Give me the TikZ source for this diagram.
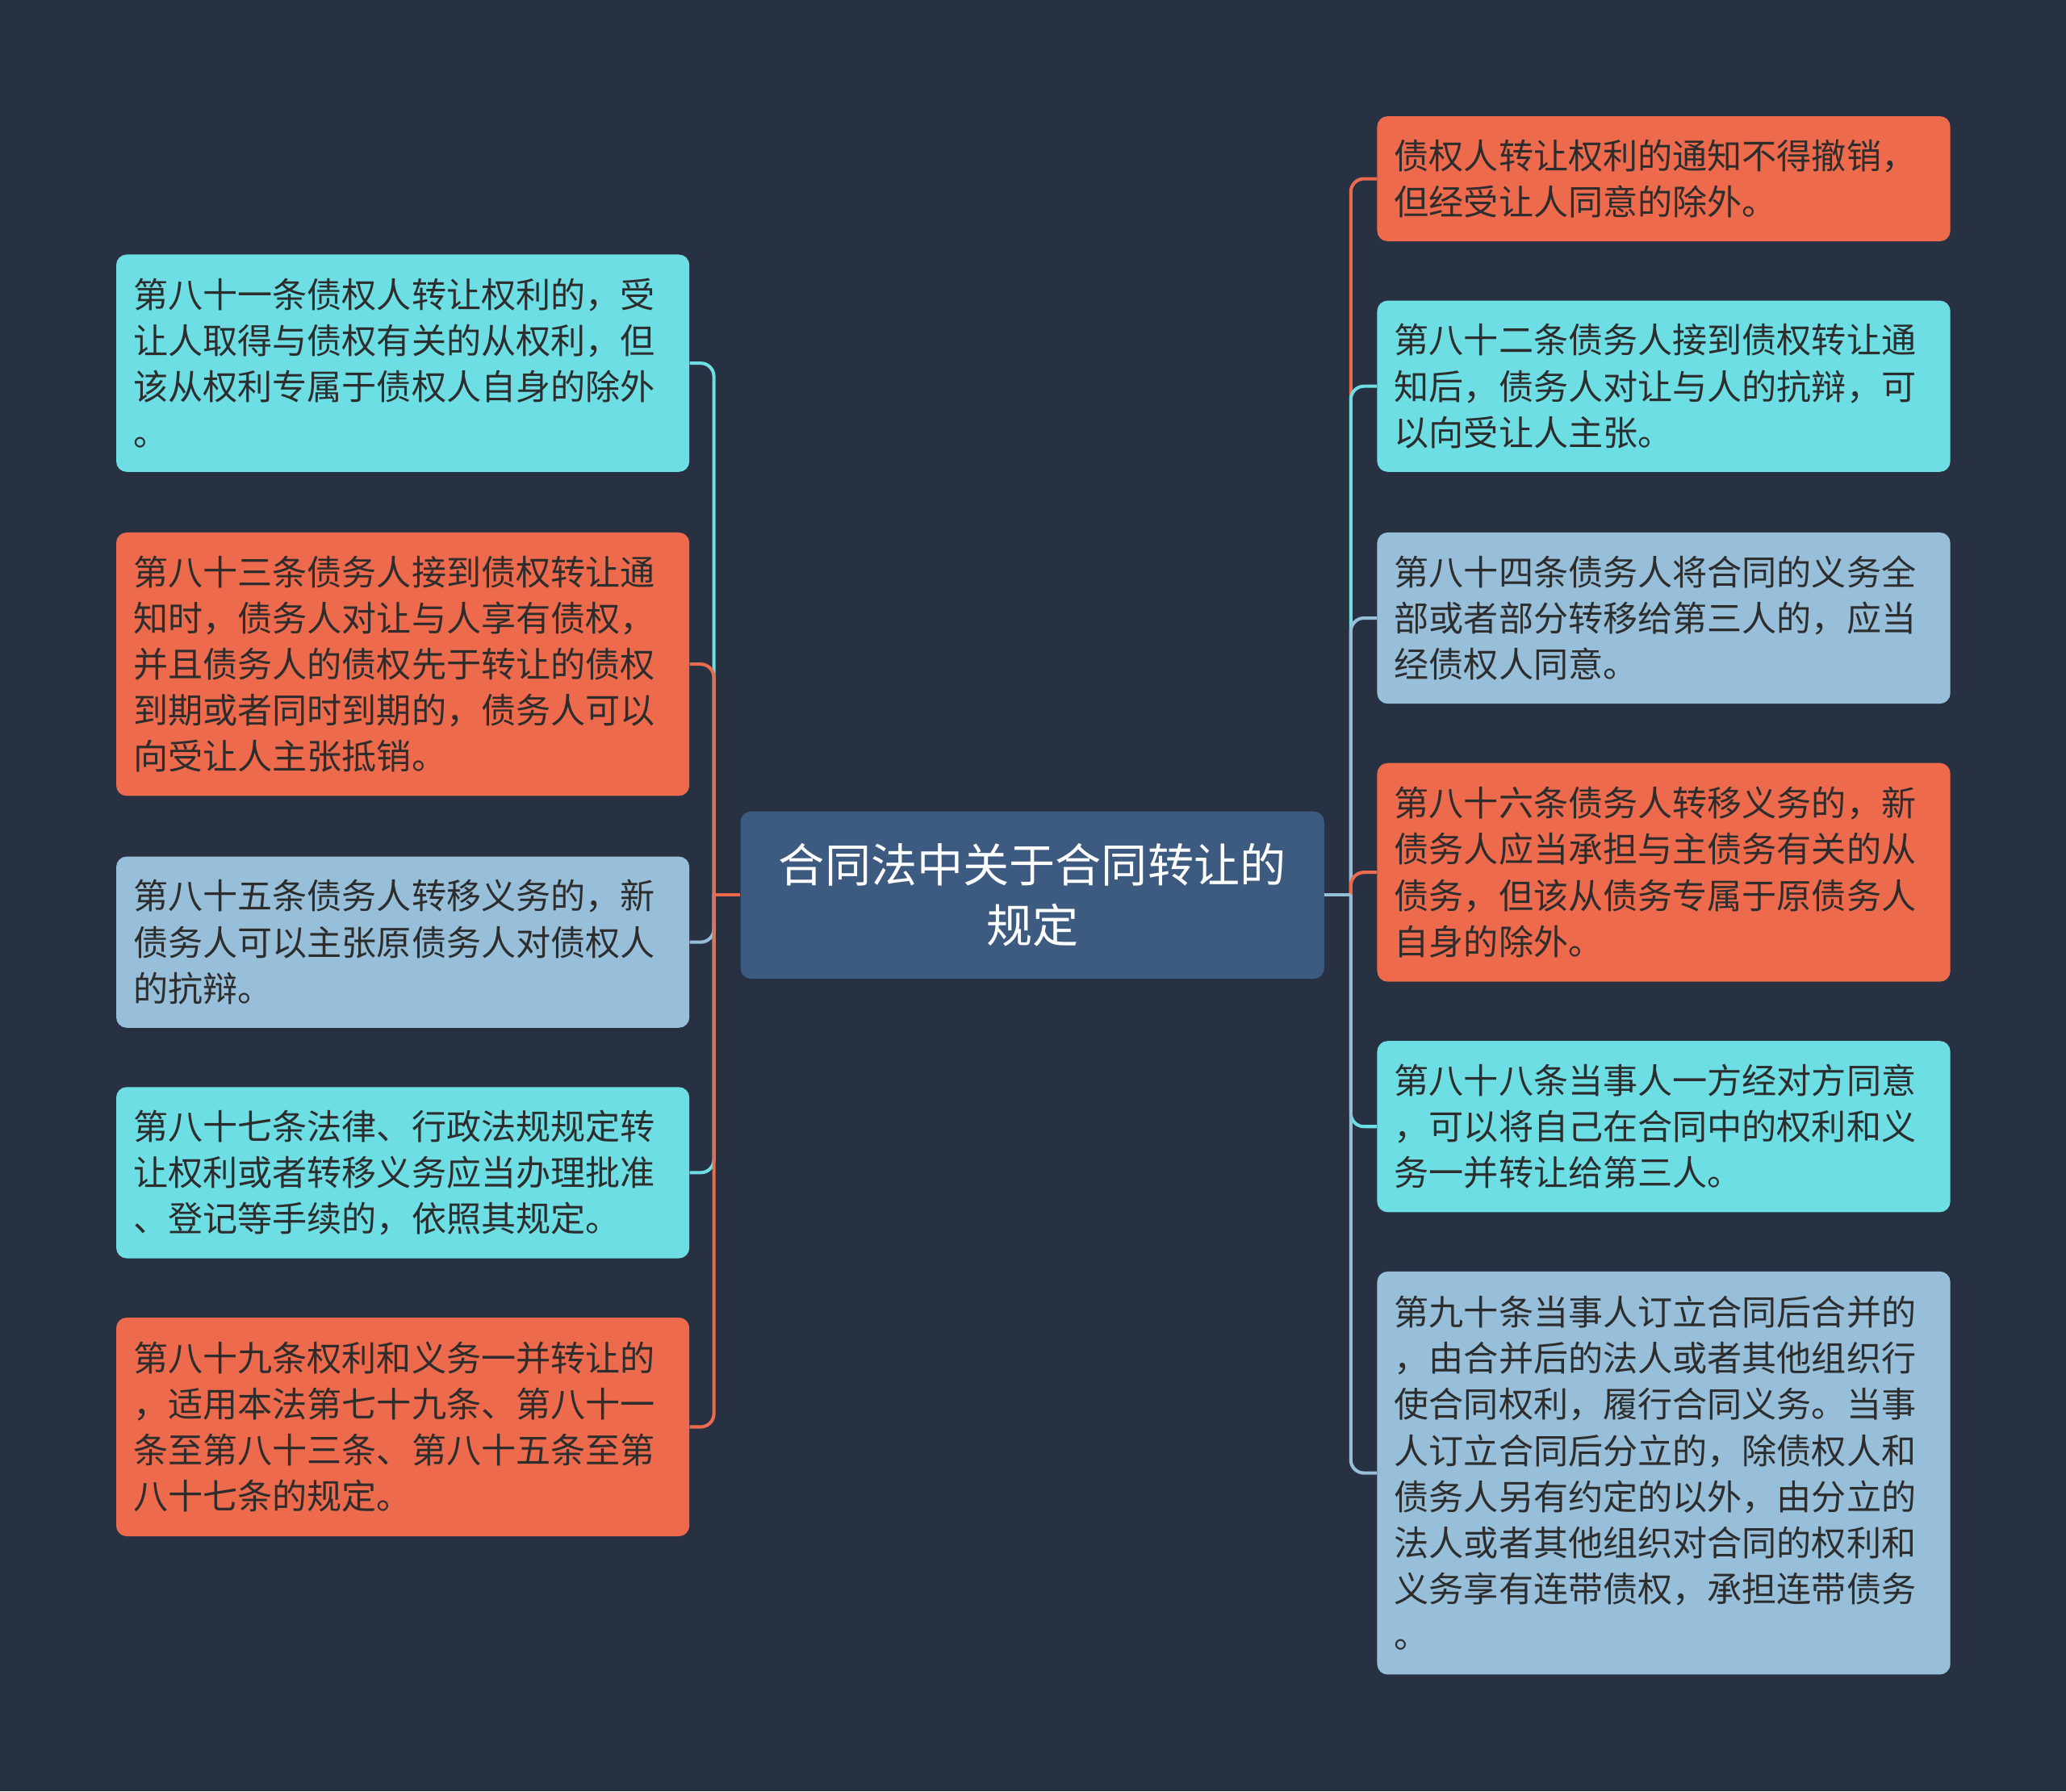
\documentclass[tikz,border=0pt]{standalone}
\usepackage{fontspec}
\setmainfont{Noto Sans CJK SC}
\definecolor{bg}{HTML}{283142}
\definecolor{orng}{HTML}{EE6A4C}
\definecolor{cyanb}{HTML}{6CDEE4}
\definecolor{lblue}{HTML}{97BFD9}
\definecolor{rootc}{HTML}{3D5A80}
\definecolor{txt}{HTML}{2D2D2D}
\tikzset{
  box/.style={rounded corners=8pt, text width=409pt, align=left, inner xsep=13pt, inner ysep=0pt,
    anchor=north west, font=\fontsize{26.4}{35}\selectfont, text=txt},
  rootbox/.style={rounded corners=8pt, fill=rootc, minimum width=443pt, minimum height=127pt,
    text=white, align=center, inner sep=0pt, font=\fontsize{35}{46}\selectfont},
  conn/.style={line width=2.5pt, rounded corners=10pt}
}
\begin{document}
\begin{tikzpicture}[x=1pt,y=-1pt]
\fill[bg] (0,0) rectangle (1568,1360);
\useasboundingbox (0,0) rectangle (1568,1360);

\node[rootbox] (root) at (783.5,679.5) {合同法中关于合同转让的\\规定};

\node[box, fill=cyanb, minimum height=165pt] (L1) at (88,193) {第八十一条债权人转让权利的，受\\让人取得与债权有关的从权利，但\\该从权利专属于债权人自身的除外\\。};
\node[box, fill=orng, minimum height=200pt] (L2) at (88,404) {第八十三条债务人接到债权转让通\\知时，债务人对让与人享有债权，\\并且债务人的债权先于转让的债权\\到期或者同时到期的，债务人可以\\向受让人主张抵销。};
\node[box, fill=lblue, minimum height=130pt] (L3) at (88,650) {第八十五条债务人转移义务的，新\\债务人可以主张原债务人对债权人\\的抗辩。};
\node[box, fill=cyanb, minimum height=130pt] (L4) at (88,825) {第八十七条法律、行政法规规定转\\让权利或者转移义务应当办理批准\\、登记等手续的，依照其规定。};
\node[box, fill=orng, minimum height=166pt] (L5) at (88,1000) {第八十九条权利和义务一并转让的\\，适用本法第七十九条、第八十一\\条至第八十三条、第八十五条至第\\八十七条的规定。};

\node[box, fill=orng, minimum height=95pt] (R1) at (1045,88) {债权人转让权利的通知不得撤销，\\但经受让人同意的除外。};
\node[box, fill=cyanb, minimum height=130pt] (R2) at (1045,228) {第八十二条债务人接到债权转让通\\知后，债务人对让与人的抗辩，可\\以向受让人主张。};
\node[box, fill=lblue, minimum height=130pt] (R3) at (1045,404) {第八十四条债务人将合同的义务全\\部或者部分转移给第三人的，应当\\经债权人同意。};
\node[box, fill=orng, minimum height=166pt] (R4) at (1045,579) {第八十六条债务人转移义务的，新\\债务人应当承担与主债务有关的从\\债务，但该从债务专属于原债务人\\自身的除外。};
\node[box, fill=cyanb, minimum height=130pt] (R5) at (1045,790) {第八十八条当事人一方经对方同意\\，可以将自己在合同中的权利和义\\务一并转让给第三人。};
\node[box, fill=lblue, minimum height=306pt] (R6) at (1045,965) {第九十条当事人订立合同后合并的\\，由合并后的法人或者其他组织行\\使合同权利，履行合同义务。当事\\人订立合同后分立的，除债权人和\\债务人另有约定的以外，由分立的\\法人或者其他组织对合同的权利和\\义务享有连带债权，承担连带债务\\。};

\coordinate (lj) at ([xshift=-20pt]root.west);
\coordinate (rj) at ([xshift=20pt]root.east);

\draw[conn, cyanb] (lj) |- (L1.east);
\draw[conn, orng] (lj) |- (L2.east);
\draw[conn, lblue] (lj) |- (L3.east);
\draw[conn, cyanb] (lj) |- (L4.east);
\draw[conn, orng] (lj) |- (L5.east);
\draw[conn, orng] (root.west) -- (lj);

\draw[conn, orng] (rj) |- (R1.west);
\draw[conn, cyanb] (rj) |- (R2.west);
\draw[conn, lblue] (rj) |- (R3.west);
\draw[conn, orng] (rj) |- (R4.west);
\draw[conn, cyanb] (rj) |- (R5.west);
\draw[conn, lblue] (rj) |- (R6.west);
\draw[conn, lblue] (root.east) -- (rj);
\end{tikzpicture}
\end{document}
